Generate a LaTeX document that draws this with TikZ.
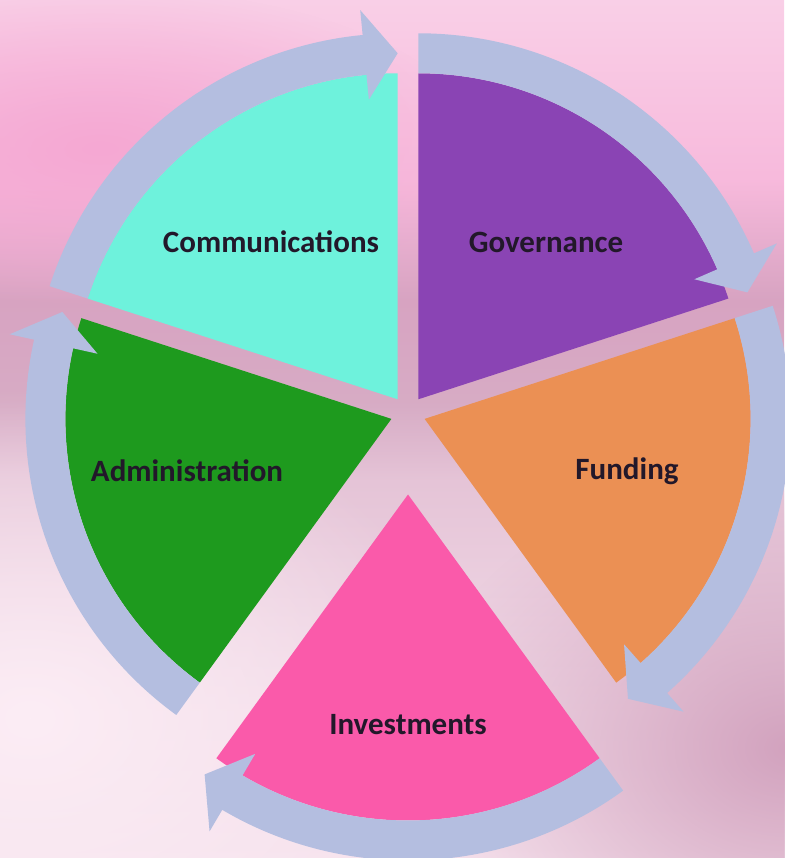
\documentclass[tikz,border=0pt]{standalone}
\usepackage{fontspec}
\setmainfont{Carlito}
\usetikzlibrary{fadings}

\definecolor{commcol}{HTML}{6EF2DC}
\definecolor{govcol}{HTML}{8A44B4}
\definecolor{fundcol}{HTML}{EB9054}
\definecolor{invcol}{HTML}{FA5AAA}
\definecolor{admcol}{HTML}{1E9A1E}
\definecolor{bandcol}{HTML}{B4BEE0}
\definecolor{labelcol}{HTML}{22182A}
\definecolor{bgpink}{HTML}{F5A8D3}
\definecolor{bglight}{HTML}{FCEDF5}
\definecolor{bgdark}{HTML}{D2A2BE}

% the path is mapped onto 25bp..75bp
\pgfdeclareverticalshading{bgshade}{100bp}{%
  color(0bp)=(bglight!85!bgdark); color(25bp)=(bglight!85!bgdark);
  color(34bp)=(bglight!75!bgdark); color(47bp)=(bglight!45!bgdark);
  color(51.5bp)=(bgdark!90!white); color(57.5bp)=(bgdark!85!bgpink);
  color(64.5bp)=(bgpink!80!white); color(75bp)=(bgpink!55!white);
  color(100bp)=(bgpink!55!white)}
\tikzfading[name=softblob, inner color=transparent!0, outer color=transparent!100]

\tikzset{
  ring/.style={fill=bandcol},
  lbl/.style={font=\fontsize{31}{34}\selectfont\bfseries, text=labelcol},
  blob/.style={fill=#1, path fading=softblob}
}

\begin{document}
\begin{tikzpicture}[x=1pt,y=1pt]
\useasboundingbox (0,0) rectangle (784,858);
% background
\shade[shading=bgshade] (0,0) rectangle (784,858);
\fill[blob=bgpink] (100,710) ellipse [x radius=380, y radius=160];
\fill[blob=bglight] (30,140) ellipse [x radius=440, y radius=330];
\fill[blob=bgdark] (790,110) ellipse [x radius=380, y radius=280];
% slices and arrows, clockwise
\foreach \a/\dx/\dy/\col in {162/397.7/458.7/commcol, 90/418.3/458.7/govcol,
    18/424.6/439.1/fundcol, -54/408/363.5/invcol, -126/391.4/439.1/admcol} {
  \begin{scope}[shift={(\dx,\dy)}]
    \fill[\col] (0,0) -- (\a:326) arc[start angle=\a, end angle={\a-72}, radius=326] -- cycle;
    \fill[ring] (\a:366) arc[start angle=\a, end angle={\a-66.5}, radius=366]
      -- ({\a-66.5}:391) -- ({\a-72}:346) -- ({\a-66.5}:301) -- ({\a-66.5}:326)
      arc[start angle={\a-66.5}, end angle=\a, radius=326] -- cycle;
  \end{scope}
}
% labels
\node[lbl] (comm) at (271,616) {Communications};
\node[lbl] (gov) at (546,616) {Governance};
\node[lbl] (fund) at (627,387) {Funding};
\node[lbl] (inv) at (408,133) {Investments};
\node[lbl] (adm) at (187,387) {Administration};
\end{tikzpicture}
\end{document}
